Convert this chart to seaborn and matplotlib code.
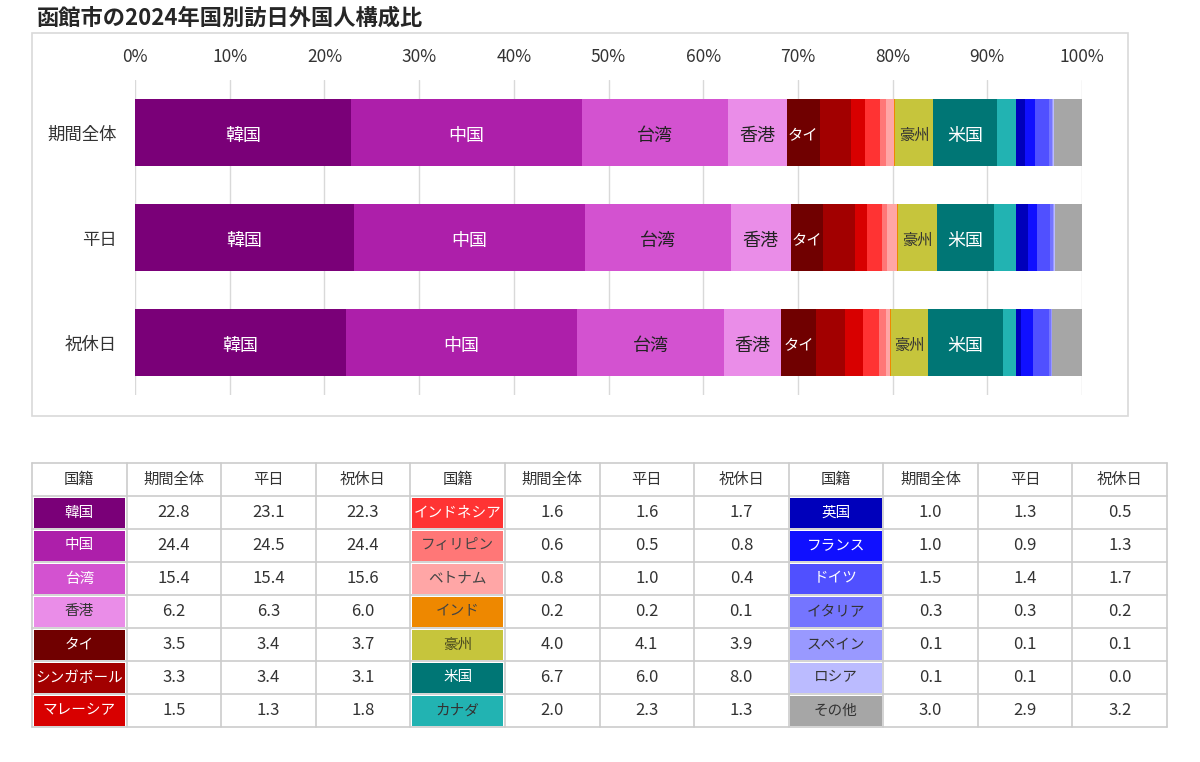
import numpy as np
import pandas as pd
import matplotlib
matplotlib.use("Agg")
import matplotlib.pyplot as plt
import seaborn as sns

# ---------------- data ----------------
title = "函館市の2024年国別訪日外国人構成比"
periods = ["期間全体", "平日", "祝休日"]
countries = ["韓国", "中国", "台湾", "香港", "タイ", "シンガポール", "マレーシア",
             "インドネシア", "フィリピン", "ベトナム", "インド", "豪州", "米国", "カナダ",
             "英国", "フランス", "ドイツ", "イタリア", "スペイン", "ロシア", "その他"]
v_all = [22.8, 24.4, 15.4, 6.2, 3.5, 3.3, 1.5,
         1.6, 0.6, 0.8, 0.2, 4.0, 6.7, 2.0,
         1.0, 1.0, 1.5, 0.3, 0.1, 0.1, 3.0]
v_weekday = [23.1, 24.5, 15.4, 6.3, 3.4, 3.4, 1.3,
             1.6, 0.5, 1.0, 0.2, 4.1, 6.0, 2.3,
             1.3, 0.9, 1.4, 0.3, 0.1, 0.1, 2.9]
v_holiday = [22.3, 24.4, 15.6, 6.0, 3.7, 3.1, 1.8,
             1.7, 0.8, 0.4, 0.1, 3.9, 8.0, 1.3,
             0.5, 1.3, 1.7, 0.2, 0.1, 0.0, 3.2]
x_ticks = [0, 10, 20, 30, 40, 50, 60, 70, 80, 90, 100]
table_header = ["国籍", "期間全体", "平日", "祝休日"]

# ---------------- styles ----------------
colors = ["#7A0078", "#AD1FAA", "#D352D0", "#EA8DE8", "#700000", "#A20000", "#D80000",
          "#FF3333", "#FF7777", "#FFA6A6", "#EE8800", "#C6C53C", "#007675", "#22B3B2",
          "#0000BB", "#1010FF", "#5050FF", "#7575FF", "#9999FF", "#BBBBFF", "#A6A6A6"]
cell_text_colors = ["white", "white", "white", "#333333", "white", "white", "white",
                    "white", "#444444", "#444444", "#444444", "#4a4a20", "white", "#333333",
                    "white", "white", "white", "#333333", "#333333", "#333333", "#333333"]
bar_labels = {"韓国": ("white", 13), "中国": ("white", 13), "台湾": ("#222222", 13),
              "香港": ("#222222", 13), "タイ": ("white", 11), "豪州": ("#333333", 11),
              "米国": ("white", 13)}

sns.set_theme(style="white")
plt.rcParams["font.family"] = ["Noto Sans CJK JP", "DejaVu Sans"]

W, H = 1200, 762
fig = plt.figure(figsize=(W / 100, H / 100), dpi=100)


def rect(x0, y0, x1, y1):
    return [x0 / W, 1 - y1 / H, (x1 - x0) / W, (y1 - y0) / H]


# background axes in pixel coordinates (frame + table)
axt = fig.add_axes([0, 0, 1, 1])
axt.set_xlim(0, W)
axt.set_ylim(H, 0)
axt.axis("off")
axt.patch.set_alpha(0)

axt.add_patch(plt.Rectangle((32, 33), 1128 - 32, 416 - 33, fill=False,
                            edgecolor="#d9d9d9", lw=1.2))
fig.text(37 / W, 1 - 18 / H, title, fontsize=16, fontweight="bold",
         color="#262626", ha="left", va="center")

# ---------------- stacked bar chart ----------------
vals = np.array([v_all, v_weekday, v_holiday])
vals_pct = vals / vals.sum(axis=1, keepdims=True) * 100
cum = np.cumsum(vals_pct, axis=1)

rows = []
for pi, p in enumerate(periods):
    for ci, c in enumerate(countries):
        rows.append({"period": p, "country": c, "value": vals_pct[pi, ci],
                     "cum": cum[pi, ci]})
df = pd.DataFrame(rows)

ax = fig.add_axes(rect(135, 80, 1082, 395))
for ci in reversed(range(len(countries))):
    sub = df[df["country"] == countries[ci]]
    sns.barplot(data=sub, x="cum", y="period", order=periods, color=colors[ci],
                orient="h", width=0.63, saturation=1, linewidth=0,
                errorbar=None, ax=ax)

for _, r in df.iterrows():
    if r["country"] in bar_labels:
        col, fs = bar_labels[r["country"]]
        yi = periods.index(r["period"])
        ax.text(r["cum"] - r["value"] / 2, yi + 0.03, r["country"], ha="center",
                va="center", color=col, fontsize=fs)

ax.set_xlim(0, 100)
ax.set_xticks(x_ticks)
ax.set_xticklabels([f"{t}%" for t in x_ticks])
ax.xaxis.tick_top()
ax.set_xlabel("")
ax.set_ylabel("")
ax.grid(axis="x", color="#d9d9d9", lw=1)
ax.grid(axis="y", visible=False)
ax.set_axisbelow(True)
for s in ax.spines.values():
    s.set_visible(False)
ax.tick_params(axis="x", length=0, pad=10, labelsize=12.5, colors="#333333")
ax.tick_params(axis="y", length=0, pad=13, labelsize=12.5, colors="#333333")
ax.patch.set_alpha(0)

# ---------------- table ----------------
tx0, tx1 = 32, 1167
ty0, row_h = 463, 33
ncols = 12
col_w = (tx1 - tx0) / ncols
n_per_group = 7
grid_col = "#cccccc"

data_cols = [v_all, v_weekday, v_holiday]
for g in range(3):
    gx = tx0 + g * 4 * col_w
    # header
    for k, h in enumerate(table_header):
        axt.text(gx + (k + 0.5) * col_w, ty0 + row_h / 2, h, ha="center",
                 va="center", fontsize=11, color="#333333")
    for r in range(n_per_group):
        ci = g * n_per_group + r
        yc = ty0 + (r + 1.5) * row_h
        ytop = ty0 + (r + 1) * row_h
        axt.add_patch(plt.Rectangle((gx + 1.5, ytop + 1.5), col_w - 3, row_h - 3,
                                    facecolor=colors[ci], edgecolor="none"))
        axt.text(gx + col_w / 2, yc, countries[ci], ha="center", va="center",
                 fontsize=10.5, color=cell_text_colors[ci])
        for k in range(3):
            axt.text(gx + (k + 1.5) * col_w, yc, f"{data_cols[k][ci]:.1f}",
                     ha="center", va="center", fontsize=12, color="#333333")

# grid lines
for k in range(ncols + 1):
    x = tx0 + k * col_w
    axt.plot([x, x], [ty0, ty0 + 8 * row_h], color=grid_col, lw=1.2)
for r in range(9):
    y = ty0 + r * row_h
    axt.plot([tx0, tx1], [y, y], color=grid_col, lw=1.2)

fig.savefig("out.png", dpi=100)
